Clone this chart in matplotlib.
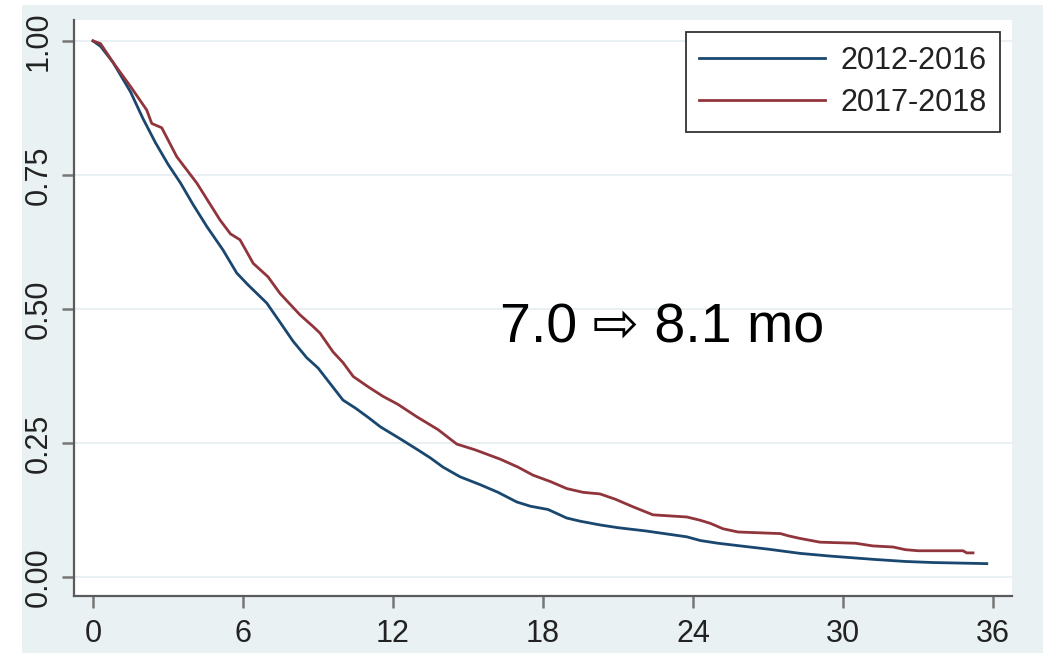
import matplotlib; matplotlib.use("Agg")
import matplotlib.pyplot as plt
from matplotlib.patches import Rectangle

# Kaplan-Meier curves (months, survival)
t_2012 = [0, 0.3, 0.8, 1.5, 2.0, 2.5, 3.0, 3.5, 4.0, 4.55, 5.2, 5.75, 6.2, 6.95, 7.5, 8.0, 8.55,
          9.0, 9.5, 10.0, 10.5, 11.0, 11.5, 12.28, 13.0, 13.5, 14.0, 14.68, 15.5, 16.2, 16.95,
          17.5, 18.2, 18.95, 19.5, 20.3, 21.0, 22.1, 23.0, 23.75, 24.3, 25.0, 25.9, 27.0, 28.3,
          29.5, 31.2, 32.5, 33.6, 35.75]
s_2012 = [1.0, 0.99, 0.96, 0.905, 0.855, 0.81, 0.77, 0.735, 0.695, 0.654, 0.61, 0.567, 0.545,
          0.511, 0.474, 0.44, 0.409, 0.39, 0.36, 0.33, 0.315, 0.298, 0.28, 0.258, 0.237, 0.222,
          0.205, 0.187, 0.172, 0.158, 0.14, 0.132, 0.126, 0.110, 0.104, 0.097, 0.092, 0.086,
          0.080, 0.075, 0.068, 0.063, 0.058, 0.052, 0.044, 0.039, 0.033, 0.029, 0.027, 0.025]
t_2017 = [0, 0.3, 0.8, 1.5, 2.15, 2.35, 2.75, 3.35, 4.15, 5.08, 5.5, 5.88, 6.41, 7.0, 7.48,
          8.28, 8.81, 9.08, 9.6, 10.0, 10.41, 11.0, 11.6, 12.2, 12.95, 13.8, 14.55, 15.3, 16.28,
          17.0, 17.6, 18.3, 18.95, 19.6, 20.28, 20.9, 21.6, 22.4, 23.75, 24.28, 24.7, 25.2, 25.8,
          27.5, 27.8, 28.28, 29.08, 30.5, 31.2, 32.0, 32.5, 33.0, 34.8, 34.95, 35.2]
s_2017 = [1.0, 0.995, 0.96, 0.915, 0.871, 0.846, 0.838, 0.784, 0.735, 0.666, 0.64, 0.629, 0.585,
          0.56, 0.529, 0.489, 0.467, 0.455, 0.42, 0.40, 0.374, 0.355, 0.337, 0.322, 0.299, 0.275,
          0.248, 0.237, 0.22, 0.205, 0.19, 0.178, 0.165, 0.158, 0.155, 0.145, 0.131, 0.116,
          0.112, 0.106, 0.10, 0.09, 0.084, 0.081, 0.077, 0.072, 0.065, 0.063, 0.058, 0.056,
          0.051, 0.049, 0.049, 0.045, 0.045]
labels = ["2012-2016", "2017-2018"]
x_ticks = [0, 6, 12, 18, 24, 30, 36]
y_ticks = [0.00, 0.25, 0.50, 0.75, 1.00]
note = "7.0 \u21e8 8.1 mo"

plt.rcParams["font.family"] = ["Liberation Sans", "DejaVu Sans"]
BG = "#e9f1f3"
fig = plt.figure(figsize=(10.51, 6.53), dpi=100)
fig.patches.append(Rectangle((22/1051, 0), (1043-22)/1051, 1 - 5/653, transform=fig.transFigure,
                             facecolor=BG, edgecolor="none", zorder=-10))
ax = fig.add_axes([74/1051, 1 - 596/653, (1012-74)/1051, (596-20)/653])
ax.set_facecolor("white")
ax.plot(t_2012, s_2012, color="#1a476f", lw=2.0, label=labels[0])
ax.plot(t_2017, s_2017, color="#90353b", lw=2.0, label=labels[1])
ax.set_xlim(-0.76, 36.76); ax.set_ylim(-0.0354, 1.039)
ax.set_xticks(x_ticks); ax.set_yticks(y_ticks)
ax.set_yticklabels([f"{v:.2f}" for v in y_ticks], rotation=90, va="center")
ax.grid(axis="y", color="#e6eff2", lw=1.3); ax.set_axisbelow(True)
for s in ["top", "right"]: ax.spines[s].set_visible(False)
for s in ["left", "bottom"]: ax.spines[s].set_color("#5a5a5a"); ax.spines[s].set_linewidth(1.6)
ax.tick_params(length=8.5, width=1.8, color="#777777", labelsize=22, labelcolor="#222222")
ax.tick_params(axis="x", pad=8); ax.tick_params(axis="y", pad=6)
ax.text(16.28, 0.438, note, fontsize=40, family=["Liberation Sans", "DejaVu Sans"],
        ha="left", va="baseline", color="black")
leg = ax.legend(loc="upper right", bbox_to_anchor=(1000/1051, 1 - 32/653), bbox_transform=fig.transFigure,
                borderaxespad=0, fontsize=22, handlelength=4.1, handletextpad=0.5, labelspacing=0.4,
                fancybox=False, framealpha=1, edgecolor="#333333", borderpad=0.45)
leg.get_frame().set_linewidth(1.3)
for txt in leg.get_texts(): txt.set_color("#222222")
fig.savefig("out.png", dpi=100)
